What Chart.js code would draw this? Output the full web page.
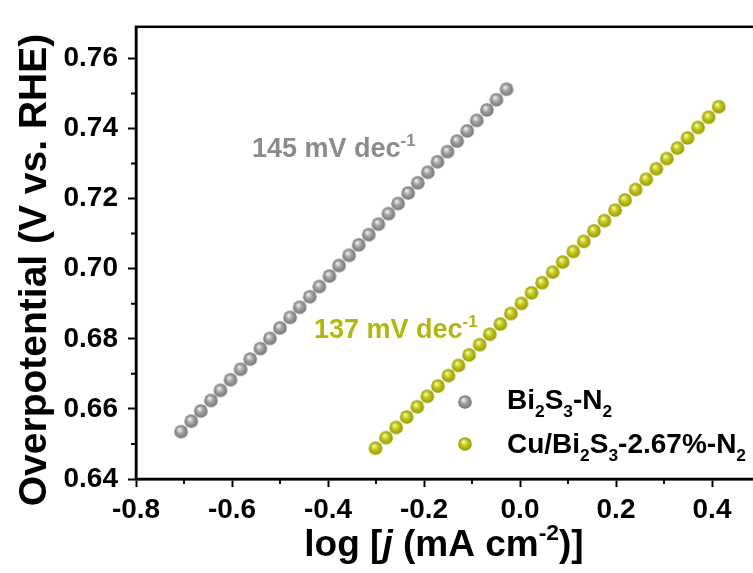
<!DOCTYPE html>
<html>
<head>
<meta charset="utf-8">
<script src="https://cdn.jsdelivr.net/npm/chart.js@4/dist/chart.umd.min.js"></script>
<style>
  html, body { margin: 0; padding: 0; background: #fff; overflow: hidden; }
  #wrap { width: 770px; height: 573px; position: relative; }
</style>
</head>
<body>
<div id="wrap"><canvas id="c" width="770" height="573"></canvas></div>
<script>
// Tafel data: log current density vs. overpotential
const logJ_Bi2S3 = [-0.706, -0.685, -0.665, -0.644, -0.624, -0.603, -0.582, -0.562, -0.541, -0.521,
  -0.500, -0.479, -0.459, -0.438, -0.418, -0.397, -0.377, -0.356, -0.336, -0.315,
  -0.295, -0.274, -0.254, -0.233, -0.213, -0.192, -0.172, -0.151, -0.131, -0.110,
  -0.090, -0.069, -0.049, -0.028];
const eta_Bi2S3 = [0.6535, 0.6565, 0.6594, 0.6624, 0.6653, 0.6683, 0.6713, 0.6742, 0.6772, 0.6801,
  0.6831, 0.6861, 0.6890, 0.6920, 0.6949, 0.6979, 0.7009, 0.7038, 0.7068, 0.7097,
  0.7127, 0.7157, 0.7186, 0.7216, 0.7245, 0.7275, 0.7305, 0.7334, 0.7364, 0.7393,
  0.7423, 0.7453, 0.7482, 0.7512];

const logJ_Cu = [-0.301, -0.279, -0.258, -0.236, -0.214, -0.193, -0.171, -0.149, -0.128, -0.106,
  -0.084, -0.063, -0.041, -0.019, 0.003, 0.024, 0.046, 0.068, 0.089, 0.111,
  0.133, 0.154, 0.176, 0.198, 0.219, 0.241, 0.263, 0.284, 0.306, 0.328,
  0.349, 0.371, 0.393, 0.414];
const eta_Cu = [0.6488, 0.6518, 0.6547, 0.6577, 0.6606, 0.6636, 0.6665, 0.6695, 0.6724, 0.6754,
  0.6783, 0.6813, 0.6842, 0.6872, 0.6901, 0.6931, 0.6960, 0.6990, 0.7019, 0.7049,
  0.7078, 0.7108, 0.7137, 0.7167, 0.7196, 0.7226, 0.7255, 0.7285, 0.7314, 0.7344,
  0.7373, 0.7403, 0.7432, 0.7462];

const seriesNames = ['Bi2S3-N2', 'Cu/Bi2S3-2.67%-N2'];
const slopeLabels = ['145', '137'];
const xRange = [-0.8, 0.5];
const yRange = [0.64, 0.769];

const FONT = '"Liberation Sans", Arial, Helvetica, sans-serif';
const GRAY = { hi: '#f2f2f2', mid: '#a4a4a4', edge: '#747474', text: '#8b8b8b' };
const OLIVE = { hi: '#f9f9b8', mid: '#c4c81a', edge: '#959900', text: '#b3b60e' };

// shaded sphere used as the marker
function sphere(c, r) {
  const s = Math.ceil(r * 2 + 2);
  const cv = document.createElement('canvas');
  cv.width = s; cv.height = s;
  const g = cv.getContext('2d');
  const cx = s / 2, cy = s / 2;
  const grad = g.createRadialGradient(cx - r * 0.25, cy - r * 0.35, r * 0.05, cx, cy, r);
  grad.addColorStop(0, c.hi);
  grad.addColorStop(0.45, c.mid);
  grad.addColorStop(1, c.edge);
  g.fillStyle = grad;
  g.beginPath(); g.arc(cx, cy, r, 0, Math.PI * 2); g.fill();
  return cv;
}
const grayBall = sphere(GRAY, 6.8);
const oliveBall = sphere(OLIVE, 6.8);

const toPts = (xs, ys) => xs.map((x, i) => ({ x: x, y: ys[i] }));

// text with sub/superscripts and italics
function rich(ctx, parts, x, y, size, color) {
  ctx.save();
  ctx.fillStyle = color;
  ctx.textBaseline = 'alphabetic';
  ctx.textAlign = 'left';
  let cx = x;
  for (const [t, m] of parts) {
    let fs = size, dy = 0, style = 'bold';
    if (m === 'sub') { fs = size * 0.62; dy = size * 0.3; }
    if (m === 'sup') { fs = size * 0.62; dy = -size * 0.42; }
    if (m === 'i') { style = 'italic bold'; }
    ctx.font = style + ' ' + fs + 'px ' + FONT;
    ctx.fillText(t, cx, y + dy);
    cx += ctx.measureText(t).width;
  }
  ctx.restore();
  return cx;
}
function richWidth(ctx, parts, size) {
  let w = 0;
  ctx.save();
  for (const [t, m] of parts) {
    let fs = (m === 'sub' || m === 'sup') ? size * 0.62 : size;
    ctx.font = (m === 'i' ? 'italic bold ' : 'bold ') + fs + 'px ' + FONT;
    w += ctx.measureText(t).width;
  }
  ctx.restore();
  return w;
}

const decor = {
  id: 'decor',
  afterDraw(chart) {
    const ctx = chart.ctx;
    const a = chart.chartArea;
    const xs = chart.scales.x, ys = chart.scales.y;

    // frame
    ctx.save();
    ctx.strokeStyle = '#000';
    ctx.lineWidth = 2.5;
    ctx.strokeRect(a.left, a.top, a.right - a.left, a.bottom - a.top);

    // minor ticks
    ctx.lineWidth = 2;
    ctx.beginPath();
    for (let v = -0.7; v < 0.5; v += 0.2) {
      const px = xs.getPixelForValue(v);
      ctx.moveTo(px, a.bottom); ctx.lineTo(px, a.bottom + 5);
    }
    for (let v = 0.65; v < 0.769; v += 0.02) {
      const py = ys.getPixelForValue(v);
      ctx.moveTo(a.left, py); ctx.lineTo(a.left - 5, py);
    }
    ctx.stroke();
    ctx.restore();

    // axis titles
    const xt = [['log [', 'n'], ['j', 'i'], [' (mA cm', 'n'], ['-2', 'sup'], [')]', 'n']];
    const xw = richWidth(ctx, xt, 37);
    rich(ctx, xt, (a.left + a.right) / 2 - xw / 2 - 4, 556, 37, '#000');

    ctx.save();
    ctx.translate(46, 270);
    ctx.rotate(-Math.PI / 2);
    ctx.font = 'bold 39px ' + FONT;
    ctx.fillStyle = '#000';
    ctx.textAlign = 'center';
    ctx.textBaseline = 'alphabetic';
    ctx.fillText('Overpotential (V vs. RHE)', 0, 0);
    ctx.restore();

    // slope annotations
    rich(ctx, [[slopeLabels[0] + ' mV dec', 'n'], ['-1', 'sup']], 252, 157, 27, GRAY.text);
    rich(ctx, [[slopeLabels[1] + ' mV dec', 'n'], ['-1', 'sup']], 314, 338, 27, OLIVE.text);

    // legend
    ctx.drawImage(grayBall, 465 - grayBall.width / 2, 402 - grayBall.height / 2);
    ctx.drawImage(oliveBall, 465 - oliveBall.width / 2, 444 - oliveBall.height / 2);
    rich(ctx, [['Bi', 'n'], ['2', 'sub'], ['S', 'n'], ['3', 'sub'], ['-N', 'n'], ['2', 'sub']], 507, 409, 28, '#000');
    rich(ctx, [['Cu/Bi', 'n'], ['2', 'sub'], ['S', 'n'], ['3', 'sub'], ['-2.67%-N', 'n'], ['2', 'sub']], 507, 453, 28, '#000');
  }
};

new Chart(document.getElementById('c'), {
  type: 'scatter',
  data: {
    datasets: [
      { label: seriesNames[0], data: toPts(logJ_Bi2S3, eta_Bi2S3), pointStyle: grayBall, pointRadius: 7, pointHoverRadius: 7 },
      { label: seriesNames[1], data: toPts(logJ_Cu, eta_Cu), pointStyle: oliveBall, pointRadius: 7, pointHoverRadius: 7 }
    ]
  },
  options: {
    responsive: false,
    animation: false,
    events: [],
    layout: { padding: { top: 9.5, right: 10, left: 0, bottom: 0 } },
    plugins: { legend: { display: false }, tooltip: { enabled: false } },
    scales: {
      x: {
        type: 'linear',
        min: xRange[0], max: xRange[1],
        grid: { drawOnChartArea: false, drawTicks: true, tickLength: 8, tickWidth: 2, tickColor: '#000' },
        border: { display: true, color: '#000', width: 2.5 },
        ticks: {
          stepSize: 0.2, includeBounds: false, padding: 6, color: '#000',
          font: { family: FONT, size: 28, weight: 'bold' },
          callback: v => v.toFixed(1)
        },
        afterFit(s) { s.height = 94; }
      },
      y: {
        type: 'linear',
        min: yRange[0], max: yRange[1],
        grid: { drawOnChartArea: false, drawTicks: true, tickLength: 8, tickWidth: 2, tickColor: '#000' },
        border: { display: true, color: '#000', width: 2.5 },
        ticks: {
          stepSize: 0.02, includeBounds: false, padding: 10, color: '#000',
          font: { family: FONT, size: 28, weight: 'bold' },
          callback: v => v.toFixed(2)
        },
        afterFit(s) { s.width = 136; }
      }
    }
  },
  plugins: [decor]
});
</script>
</body>
</html>
